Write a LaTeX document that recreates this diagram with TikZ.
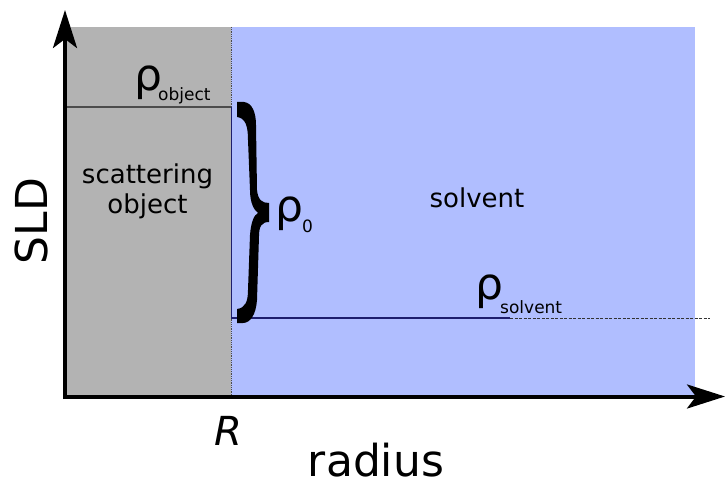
\documentclass[tikz,border=0pt]{standalone}
\usepackage{fontspec}
\setmainfont{DejaVu Sans}
\usetikzlibrary{arrows.meta}
\definecolor{solventblue}{RGB}{176,190,255}
\definecolor{objgray}{RGB}{179,179,179}
\definecolor{navy}{RGB}{30,30,110}
\tikzset{
  axisline/.style={line width=4pt,-{Stealth[length=38pt,width=24pt,inset=9pt]}},
  lbl/.style={inner sep=0pt,anchor=base},
  bigrho/.style={inner sep=0pt,anchor=base west,font=\fontsize{44}{44}\selectfont},
  subrho/.style={inner sep=0pt,anchor=base west,font=\fontsize{17}{17}\selectfont},
}
\begin{document}
\begin{tikzpicture}[x=1pt,y=-1pt]
\useasboundingbox (0,0) rectangle (725,484);
% regions
\fill[objgray] (65,27) rectangle (231,396);
\fill[solventblue] (231,27) rectangle (695,396);
\draw[densely dotted,line width=0.8pt,black!70] (231,27) -- (231,396);
% SLD levels
\draw[line width=1.5pt,black!70] (65,107) -- (231,107);
\draw[line width=1pt,navy] (231,107) -- (231,318);
\draw[line width=1.2pt,navy] (231,318) -- (510,318);
\draw[dashed,dash pattern=on 3pt off 1.5pt,line width=0.8pt,black!80] (510,318) -- (710,318);
% brace
\fill[black] (237,102) -- (244,102) .. controls (252,103) and (256,112) .. (256,125)
  -- (257,190) .. controls (258,200) and (262,203) .. (269,203) -- (269,222)
  .. controls (262,222) and (259,226) .. (259,236) -- (257,300)
  .. controls (256,315) and (250,323) .. (243,323) -- (237,323) -- (237,309)
  .. controls (245,308) and (248,302) .. (248,290) -- (250,235)
  .. controls (251,222) and (254,215) .. (258,213)
  .. controls (254,210) and (250,203) .. (250,190) -- (248,140)
  .. controls (248,125) and (245,118) .. (237,117) -- cycle;
% axes
\coordinate (yo) at (65,399);
\coordinate (ytip) at (65,10);
\coordinate (xo) at (63,396.5);
\coordinate (xtip) at (725,396.5);
\draw[axisline] (yo) -- (ytip);
\draw[axisline] (xo) -- (xtip);
% labels
\node[lbl,rotate=90,font=\fontsize{44}{44}\selectfont] (sld) at (47,221) {SLD};
\node[lbl,font=\fontsize{44}{44}\selectfont] (radius) at (376,476) {radius};
\node[lbl,font=\fontsize{40}{40}\selectfont\itshape] (R) at (228,445) {R};
\node[inner sep=0pt,align=center,font=\fontsize{26}{30}\selectfont] (obj) at (147.5,191) {scattering\\object};
\node[lbl,font=\fontsize{26}{30}\selectfont] (solv) at (477,207) {solvent};
\node[bigrho] (r1) at (134,91) {ρ};
\node[subrho] (s1) at (158,101) {object};
\node[bigrho] (r2) at (475,299) {ρ};
\node[subrho] (s2) at (500,313) {solvent};
\node[bigrho] (r3) at (275,221) {ρ};
\node[subrho] (s3) at (302,232) {0};
\end{tikzpicture}
\end{document}
